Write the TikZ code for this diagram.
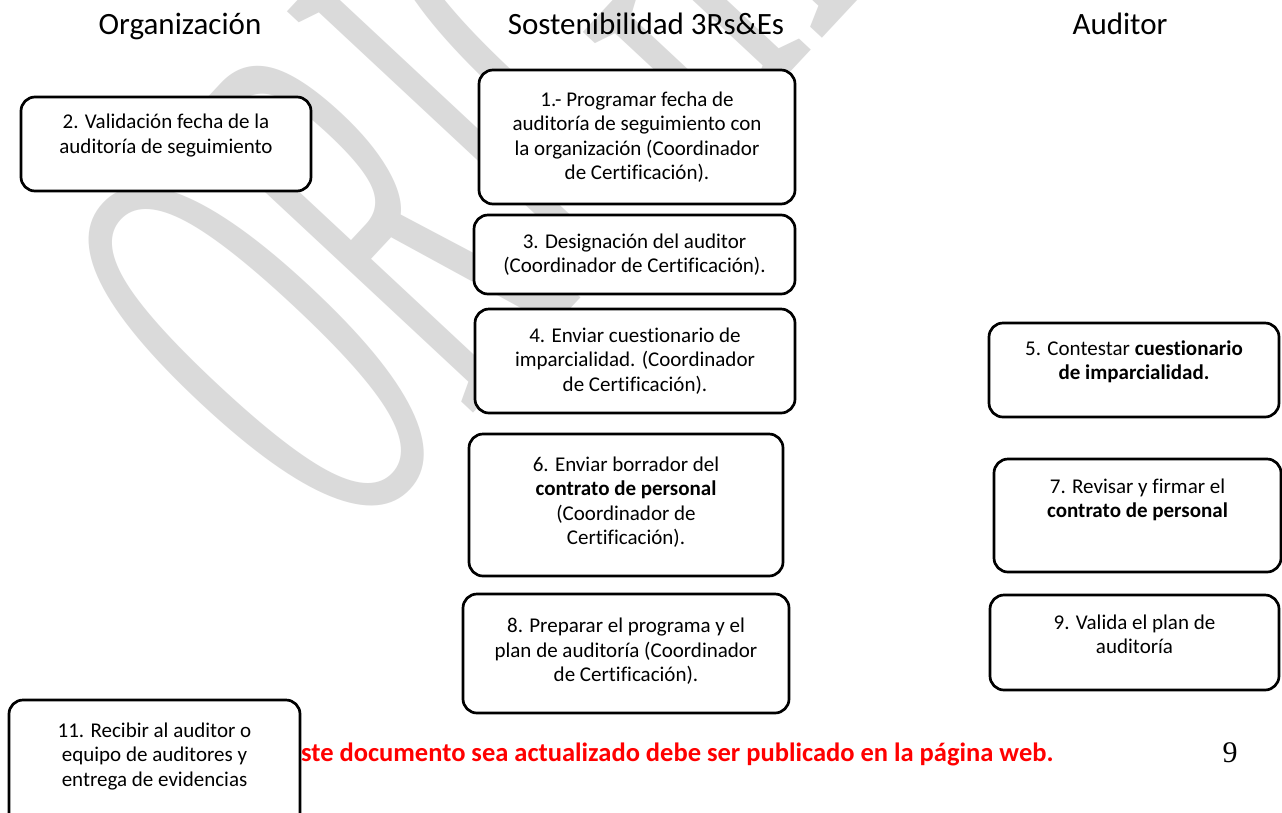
\documentclass[tikz,border=0pt]{standalone}
\usepackage{fontspec}
\setmainfont{Carlito}[Ligatures=NoCommon]
\newfontfamily\wmfont{Liberation Serif}
\newfontfamily\pagefont{Liberation Serif}

\definecolor{wmgray}{RGB}{218,218,218}
\definecolor{notered}{RGB}{255,0,0}

\begin{document}
\begin{tikzpicture}[x=1pt,y=-1pt,
    stepbox/.style={draw,line width=2.7pt,rounded corners=14pt,fill=white},
    boxtxt/.style={align=center,inner sep=0pt,font=\fontsize{21}{24.5}\selectfont},
    coltitle/.style={inner sep=0pt,anchor=base,font=\fontsize{31}{36}\selectfont}]
  \clip (0,0) rectangle (1282,812);
  \fill[white] (0,0) rectangle (1282,812);
  % watermark
  \node[rotate=47,yscale=2.5,anchor=base west,inner sep=0pt,text=wmgray,font=\wmfont\fontsize{250}{250}\selectfont] at (344,551.5) (wm) {ORIGINAL};
  % column titles
  \node[coltitle] at (180,34) (orgtitle) {Organización};
  \node[coltitle] at (646,34) (sostitle) {Sostenibilidad 3Rs\&Es};
  \node[coltitle] at (1120,34) (audtitle) {Auditor};
  % footer
  \node[anchor=base west,inner sep=0pt,text=notered,font=\fontsize{26.5}{30}\selectfont\bfseries] at (301,761) (footnote) {ste documento sea actualizado debe ser publicado en la página web.};
  \node[anchor=base,inner sep=0pt,font=\pagefont\fontsize{30}{34}\selectfont] at (1230,762) (pagenum) {9};
  % Organizacion
  \node[stepbox,minimum width=290pt,minimum height=94pt] at (166,144) (b2) {};
  \node[boxtxt] at ([yshift=8.5pt]b2.center) (t2) {2. Validación fecha de la\\auditoría de seguimiento};
  \node[stepbox,minimum width=291pt,minimum height=130pt] at (154.5,765) (b11) {};
  \node[boxtxt] at ([yshift=9pt]b11.center) (t11) {11. Recibir al auditor o\\equipo de auditores y\\entrega de evidencias};
  % Sostenibilidad
  \node[stepbox,minimum width=316pt,minimum height=134pt] at (637,137) (b1) {};
  \node[boxtxt] at (b1.center) (t1) {1.- Programar fecha de\\auditoría de seguimiento con\\la organización (Coordinador\\de Certificación).};
  \node[stepbox,minimum width=321pt,minimum height=79pt] at (634.5,254.5) (b3) {};
  \node[boxtxt] at (b3.center) (t3) {3. Designación del auditor\\(Coordinador de Certificación).};
  \node[stepbox,minimum width=320pt,minimum height=104pt] at (635,361) (b4) {};
  \node[boxtxt] at (b4.center) (t4) {4. Enviar cuestionario de\\imparcialidad. (Coordinador\\de Certificación).};
  \node[stepbox,minimum width=314pt,minimum height=142pt] at (626,505) (b6) {};
  \node[boxtxt] at ([yshift=3pt]b6.center) (t6) {6. Enviar borrador del\\\textbf{contrato de personal}\\(Coordinador de\\Certificación).};
  \node[stepbox,minimum width=326pt,minimum height=119pt] at (626,653.5) (b8) {};
  \node[boxtxt] at ([yshift=2pt]b8.center) (t8) {8. Preparar el programa y el\\plan de auditoría (Coordinador\\de Certificación).};
  % Auditor
  \node[stepbox,minimum width=290pt,minimum height=94pt] at (1134,370) (b5) {};
  \node[boxtxt] at ([yshift=8pt]b5.center) (t5) {5. Contestar \textbf{cuestionario}\\\textbf{de imparcialidad.}};
  \node[stepbox,minimum width=287pt,minimum height=113pt] at (1137.5,515.5) (b7) {};
  \node[boxtxt] at ([yshift=15.5pt]b7.center) (t7) {7. Revisar y firmar el\\\textbf{contrato de personal}};
  \node[stepbox,minimum width=289pt,minimum height=95pt] at (1134.5,642.5) (b9) {};
  \node[boxtxt] at ([yshift=8pt]b9.center) (t9) {9. Valida el plan de\\auditoría};
\end{tikzpicture}
\end{document}
